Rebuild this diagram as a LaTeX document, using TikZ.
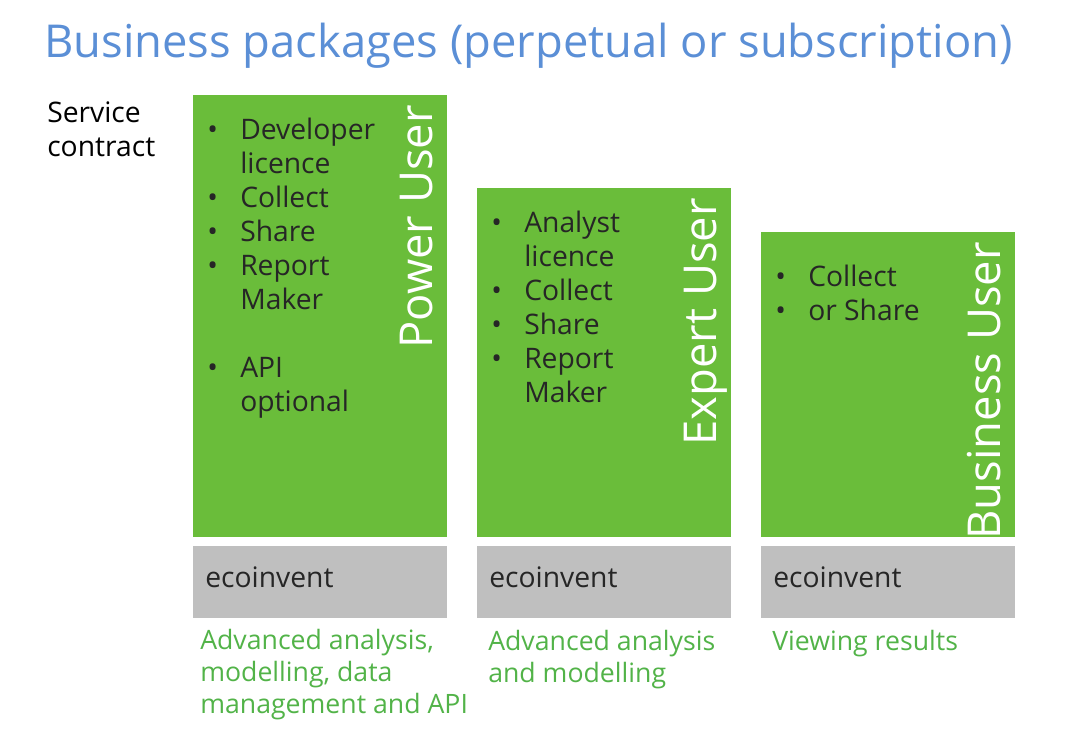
\documentclass[tikz,border=0pt]{standalone}
\usepackage{fontspec}
\setmainfont{Open Sans}
\usepackage{array}

\definecolor{titleblue}{HTML}{5B8FD6}
\definecolor{boxgreen}{HTML}{6ABD3A}
\definecolor{capgreen}{HTML}{52B348}
\definecolor{ecogray}{HTML}{BFBFBF}
\definecolor{darktext}{HTML}{262626}

\newcommand{\bodyfont}{\fontsize{21.2}{25.5}\selectfont}
\newcommand{\capfont}{\fontsize{20}{24}\selectfont}

\tikzset{
  greenbox/.style={fill=boxgreen, anchor=north west, minimum width=190pt, inner sep=0pt},
  ecobox/.style={fill=ecogray, anchor=north west, minimum width=190pt, minimum height=54pt,
    inner xsep=9pt, inner ysep=0pt, text width=172pt, align=left,
    text height=7.5pt, text depth=0pt, font=\bodyfont, text=darktext},
  itemlist/.style={anchor=base west, inner sep=0pt, font=\bodyfont, text=darktext},
  userlabel/.style={rotate=90, anchor=base east, inner sep=0pt, text=white,
    font=\fontsize{34}{40}\selectfont},
  caption/.style={anchor=base west, inner sep=0pt, align=left, font=\capfont, text=capgreen}
}

\begin{document}
\begin{tikzpicture}[x=0.75pt, y=-0.75pt]
  \useasboundingbox (0,0) rectangle (1071,737);

  \node[anchor=base west, inner sep=0pt, text=titleblue, font=\fontsize{34}{40}\selectfont]
    (title) at (44,58) {Business packages (perpetual or subscription)};
  % base = last line for multi-line nodes
  \node[anchor=base west, inner sep=0pt, align=left, font=\bodyfont, text=black]
    (service) at (47,157) {Service\\contract};

  % columns
  \foreach \x/\top/\h/\name/\label in {193/95/331.5pt/power/Power User,
                                       477/188/261.75pt/expert/Expert User,
                                       761/232/228.75pt/business/Business User} {
    \node[greenbox, minimum height=\h] (\name) at (\x,\top) {};
    \node[userlabel] (\name-label) at ({\x+239},{\top+10}) {\label};
    \node[ecobox] (\name-eco) at (\x,546) {ecoinvent};
  }

  % bullet lists
  \node[itemlist] (power-list) at (207,140) {\begin{tabular}[t]{@{}p{24.75pt}@{}l@{}}
    \textbullet & Developer\\ & licence\\ \textbullet & Collect\\ \textbullet & Share\\
    \textbullet & Report\\ & Maker\\[25.5pt] \textbullet & API\\ & optional
  \end{tabular}};
  \node[itemlist] (expert-list) at (491,233) {\begin{tabular}[t]{@{}p{24.75pt}@{}l@{}}
    \textbullet & Analyst\\ & licence\\ \textbullet & Collect\\ \textbullet & Share\\
    \textbullet & Report\\ & Maker
  \end{tabular}};
  \node[itemlist] (business-list) at (775,287) {\begin{tabular}[t]{@{}p{24.75pt}@{}l@{}}
    \textbullet & Collect\\ \textbullet & or Share
  \end{tabular}};

  % captions
  \node[caption] (power-cap) at (200,713) {Advanced analysis,\\modelling, data\\management and API};
  \node[caption] (expert-cap) at (488,682) {Advanced analysis\\and modelling};
  \node[caption] (business-cap) at (772,650) {Viewing results};
\end{tikzpicture}
\end{document}
